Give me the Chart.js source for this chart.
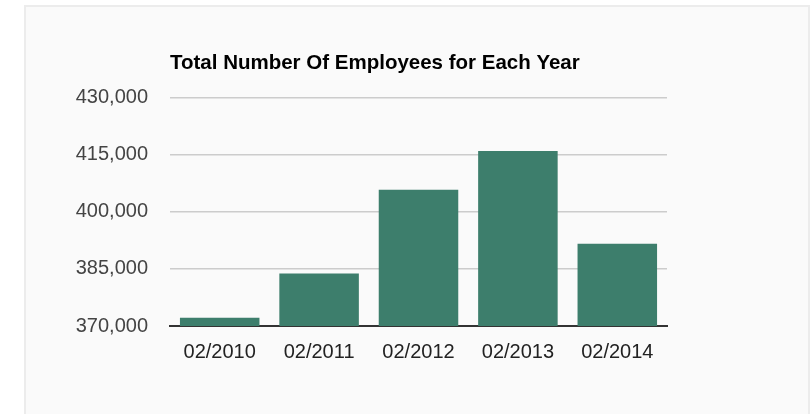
<!DOCTYPE html>
<html>
<head>
<meta charset="utf-8">
<script src="https://cdn.jsdelivr.net/npm/chart.js@4.4.1/dist/chart.umd.min.js"></script>
<style>
  html, body { margin: 0; padding: 0; background: #fff; }
  #frame {
    position: absolute; left: 24px; top: 5px; width: 782px; height: 420px;
    border: 2px solid #ececec; border-bottom: none; background: #fafafa;
  }
  #myChart { position: absolute; left: 0; top: 0; }
</style>
</head>
<body>
<div id="frame"></div>
<canvas id="myChart" width="812" height="414"></canvas>
<script>
var years = ["02/2010", "02/2011", "02/2012", "02/2013", "02/2014"];
var employees = [372200, 383800, 405800, 416000, 391600];
var yTicks = [370000, 385000, 400000, 415000, 430000];

var font = "'Liberation Sans', Arial, sans-serif";
var ctx = document.getElementById('myChart').getContext('2d');

var myChart = new Chart(ctx, {
  type: 'bar',
  data: {
    labels: years,
    datasets: [{
      label: 'Employees',
      data: employees,
      backgroundColor: '#3d7e6c',
      categoryPercentage: 0.8,
      barPercentage: 1.0
    }]
  },
  options: {
    responsive: false,
    animation: false,
    layout: {
      padding: { left: 0, right: 145, top: 0, bottom: 36 }
    },
    plugins: {
      legend: { display: false },
      tooltip: { enabled: false },
      title: {
        display: true,
        text: 'Total Number Of Employees for Each Year',
        align: 'start',
        fullSize: false,
        color: '#000',
        font: { family: font, size: 20.5, weight: 'bold', lineHeight: 1.2 },
        padding: { top: 51, bottom: 22 }
      }
    },
    scales: {
      x: {
        z: 1,
        grid: { display: false, drawTicks: false },
        border: { display: true, color: '#333', width: 2 },
        ticks: {
          color: '#222',
          padding: 14,
          maxRotation: 0,
          font: { family: font, size: 20 }
        }
      },
      y: {
        min: yTicks[0],
        max: yTicks[yTicks.length - 1],
        afterFit: function (scale) { scale.width = 170; },
        afterBuildTicks: function (scale) {
          scale.ticks = yTicks.map(function (v) { return { value: v }; });
        },
        grid: { color: '#cccccc', lineWidth: 1.5, drawTicks: false },
        border: { display: false },
        ticks: {
          color: '#444',
          padding: 22,
          font: { family: font, size: 20 },
          callback: function (v) { return v.toLocaleString('en-US'); }
        }
      }
    }
  }
});
</script>
</body>
</html>
